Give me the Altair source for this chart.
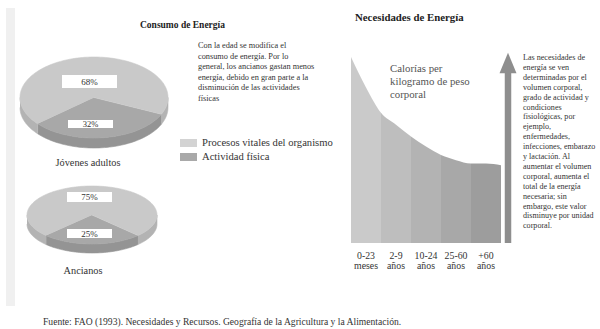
import altair as alt
import numpy as np
import pandas as pd

# ---------------- data ----------------
pie_groups = ["Jóvenes adultos", "Ancianos"]
slice_names = ["Procesos vitales del organismo", "Actividad física"]
jovenes_pct = [68, 32]
ancianos_pct = [75, 25]

age_groups = ["0-23 meses", "2-9 años", "10-24 años", "25-60 años", "+60 años"]
curve_pos = [0, 0.5, 1, 1.5, 2, 2.5, 3, 3.5, 4, 4.5, 5]
curve_kcal = [110, 92, 77, 70, 63, 57, 52, 49, 47, 47, 46]

title_left = "Consumo de Energía"
title_right = "Necesidades de Energía"
note_left = ("Con la edad se modifica el\nconsumo de energía. Por lo\n"
             "general, los ancianos gastan menos\nenergía, debido en gran parte a la\n"
             "disminución de las actividades\nfísicas")
note_right = ("Las necesidades de\nenergía se ven\ndeterminadas por el\nvolumen corporal,\n"
              "grado de actividad y\ncondiciones\nfisiológicas, por\nejemplo,\nenfermedades,\n"
              "infecciones, embarazo\ny lactación. Al\naumentar el volumen\ncorporal, aumenta el\n"
              "total de la energía\nnecesaria; sin\nembargo, este valor\ndisminuye por unidad\ncorporal.")
area_label = "Calorías per\nkilogramo de peso\ncorporal"
source = ("Fuente: FAO (1993). Necesidades y Recursos. Geografía de la Agricultura "
          "y la Alimentación.")

# ---------------- styles ----------------
SERIF = "Liberation Serif"
KEYS = ["top|0", "top|1", "side|0", "side|1"]
SHADES = ["#c9c9c9", "#a8a8a8", "#b3b3b3", "#949494"]
BAND = ["#cacaca", "#bebebe", "#b3b3b3", "#a8a8a8", "#9d9d9d"]
TXT = "#333333"


def arc_pts(a_start, a_end):
    n = max(2, int(np.ceil(abs(a_end - a_start) / 2)) + 1)
    a = np.radians(np.linspace(a_start, a_end, n))
    return np.cos(a), np.sin(a)


def pie_geometry(pcts, rot, depth):
    tops, sides = [], []
    half = pcts[1] * 3.6 / 2
    d0 = -90 - half + rot
    d1 = -90 + half + rot
    spans = {1: (d0, d1), 0: (d1, d0 + 360)}
    for idx, (s, e) in spans.items():
        cx, cy = arc_pts(s, e)
        xs = np.concatenate([[0.0], cx])
        ys = np.concatenate([[0.0], cy])
        for i, (x, y) in enumerate(zip(xs, ys)):
            tops.append({"poly": f"t{idx}", "key": f"top|{idx}", "i": i, "px": x, "py": y})
        for k in (0, 1):
            lo, hi = max(s, -180 + 360 * k), min(e, 360 * k)
            if hi - lo > 0.01:
                cx, cy = arc_pts(lo, hi)
                xs = np.concatenate([cx, cx[::-1]])
                ys = np.concatenate([cy, cy[::-1] - depth])
                for i, (x, y) in enumerate(zip(xs, ys)):
                    sides.append({"poly": f"s{idx}{k}", "key": f"side|{idx}", "i": i,
                                  "px": x, "py": y})
    return pd.DataFrame(tops), pd.DataFrame(sides)


def pie_chart(pcts, xr, yr, depth, rot):
    top_df, side_df = pie_geometry(pcts, rot, depth)
    xs = alt.X("px:Q", scale=alt.Scale(domain=[-1, 1], range=xr, nice=False, zero=False), axis=None)
    ys = alt.Y("py:Q", scale=alt.Scale(domain=[-1 - depth, 1], range=yr, nice=False, zero=False),
               axis=None)
    cscale = alt.Scale(domain=KEYS, range=SHADES)
    enc = dict(x=xs, y=ys, order=alt.Order("i:Q"), detail="poly:N",
               color=alt.Color("key:N", scale=cscale, legend=None),
               stroke=alt.Stroke("key:N", scale=cscale, legend=None))
    side = alt.Chart(side_df).mark_line(filled=True, strokeWidth=0.6).encode(**enc)
    top = alt.Chart(top_df).mark_line(filled=True, strokeWidth=0.6).encode(**enc)
    return alt.layer(side, top)


def text(t, x, y, size, **kw):
    props = dict(font=SERIF, fontSize=size, color=TXT, baseline="middle", align="left")
    props.update(kw)
    return alt.Chart(pd.DataFrame({"t": [t]})).mark_text(**props).encode(
        x=alt.value(x), y=alt.value(y), text="t:N")


def box(x1, x2, y1, y2, fill):
    return alt.Chart(pd.DataFrame({"t": [0]})).mark_rect(fill=fill).encode(
        x=alt.value(x1), x2=alt.value(x2), y=alt.value(y1), y2=alt.value(y2))


# ---------------- pies ----------------
pie1 = pie_chart(jovenes_pct, [20, 168], [148, 57], 0.247, 8)
pie2 = pie_chart(ancianos_pct, [27, 157], [253, 186], 0.31, 0)

pie_labels = [
    box(62, 117, 75, 88, "white"), text(f"{jovenes_pct[0]}%", 89.5, 82, 9, align="center"),
    box(68, 113, 120, 128, "white"), text(f"{jovenes_pct[1]}%", 90.5, 124, 8.5, align="center"),
    box(67, 112, 192, 202, "white"), text(f"{ancianos_pct[0]}%", 89.5, 197, 9, align="center"),
    box(67, 112, 229, 238, "white"), text(f"{ancianos_pct[1]}%", 89.5, 233.5, 9, align="center"),
    text(pie_groups[0], 88, 163, 10.3, align="center"),
    text(pie_groups[1], 83, 271, 10.3, align="center"),
]

# ---------------- legend & notes ----------------
legend = [
    box(180, 197, 139, 147, "#d3d3d3"), text(slice_names[0], 202, 143, 10.6),
    box(180, 197, 153, 161, "#a9a9a9"), text(slice_names[1], 202, 157, 10.6),
]
notes = [
    text(title_left, 140, 25, 9.5, fontWeight="bold", color="#222222"),
    text(note_left, 198, 41, 8.3, baseline="top", lineBreak="\n", lineHeight=10.6),
    text(title_right, 355, 18, 10.8, fontWeight="bold", color="#222222"),
    text(note_right, 523, 54, 8.1, baseline="top", lineBreak="\n", lineHeight=9.9),
    text(area_label, 390, 63, 10.8, baseline="top", lineBreak="\n", lineHeight=12.8,
         color="#555555"),
    text(source, 43, 322, 9.6),
]

# ---------------- area chart ----------------
area_df = pd.DataFrame({"pos": curve_pos, "kcal": curve_kcal})
xsc = alt.Scale(domain=[0, 5], range=[351, 501], nice=False, zero=False)
ysc = alt.Scale(domain=[0, 110], range=[243, 57], nice=False, zero=False)
stops = []
for j, c in enumerate(BAND):
    stops += [alt.GradientStop(offset=j / 5, color=c), alt.GradientStop(offset=(j + 1) / 5, color=c)]
area = alt.Chart(area_df).mark_area(
    interpolate="monotone",
    color=alt.Gradient(gradient="linear", stops=stops, x1=0, x2=1, y1=0, y2=0),
).encode(x=alt.X("pos:Q", scale=xsc, axis=None), y=alt.Y("kcal:Q", scale=ysc, axis=None))
cat_df = pd.DataFrame({"age": age_groups, "mid": [i + 0.5 for i in range(len(age_groups))]})
cats = alt.Chart(cat_df).mark_text(
    font=SERIF, fontSize=9.8, lineBreak=" ", lineHeight=10, baseline="top", color=TXT
).encode(x=alt.X("mid:Q", scale=xsc, axis=None), y=alt.value(251), text="age:N")
area_layer = alt.layer(area, cats)

arrow_shaft = alt.Chart(pd.DataFrame({"t": [0]})).mark_rule(
    color="#8e8e8e", strokeWidth=6.5).encode(x=alt.value(508), y=alt.value(68), y2=alt.value(243))
arrow_head = alt.Chart(pd.DataFrame({"t": [0]})).mark_point(
    shape="M0,-1.2L1,1.2L-1,1.2Z", filled=True, size=289, color="#8e8e8e", opacity=1
).encode(x=alt.value(508), y=alt.value(63))

strip = box(6, 15, 8, 306, "#f0f0f0")

chart = alt.layer(
    strip, pie1, pie2, area_layer, arrow_shaft, arrow_head, *pie_labels, *legend, *notes
).resolve_scale(
    x="independent", y="independent", color="independent", stroke="independent"
).properties(
    width=600, height=329, autosize=alt.AutoSizeParams(type="none"), padding=0,
    background="white"
).configure_view(stroke=None)

chart.save("out.html", embed_options={"renderer": "svg", "actions": False})
